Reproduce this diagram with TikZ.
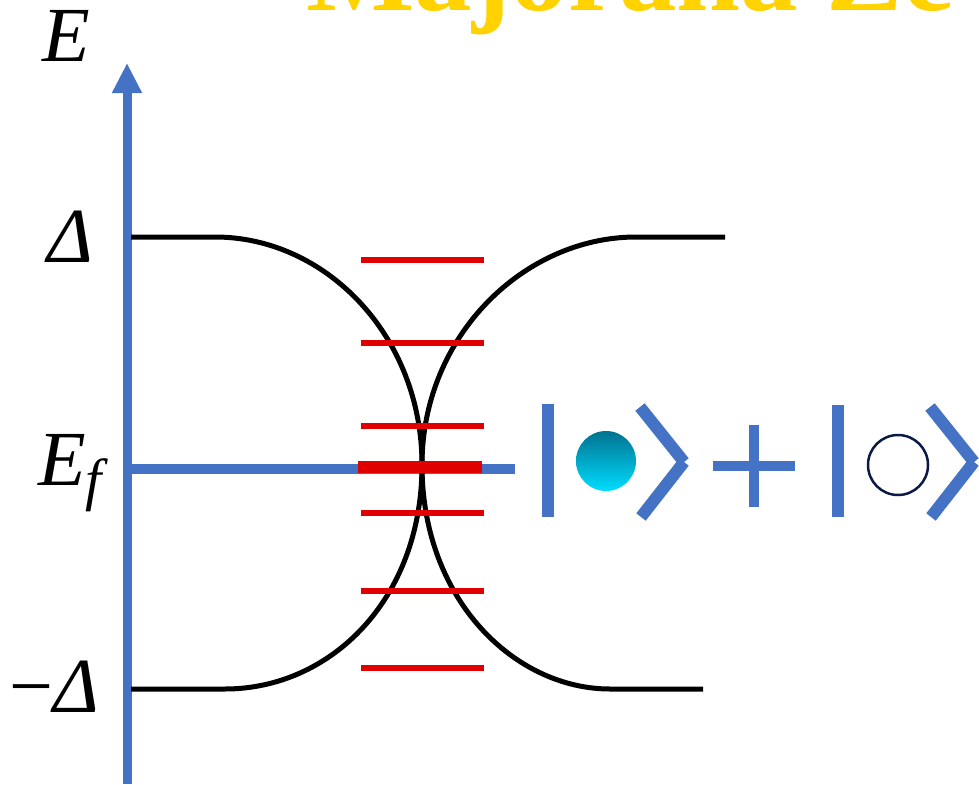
\documentclass[tikz,border=0pt]{standalone}
\usepackage{fontspec}
\setmainfont{Liberation Serif}
\usetikzlibrary{arrows.meta}
\definecolor{axisblue}{HTML}{4472C4}
\definecolor{levelred}{HTML}{E00000}
\definecolor{titlegold}{HTML}{FFD200}
\definecolor{navy}{HTML}{0B1A45}
\definecolor{tealtop}{HTML}{00728F}
\definecolor{cyanbot}{HTML}{00DDFF}
\tikzset{
  axisline/.style={axisblue, line width=9pt},
  bandline/.style={black, line width=5pt},
  levelline/.style={levelred, line width=6pt},
  ketstroke/.style={axisblue, line width=12pt},
  biglabel/.style={inner sep=0pt, anchor=base, font=\fontsize{78}{78}\selectfont\itshape},
}
\begin{document}
\begin{tikzpicture}[x=1pt,y=-1pt]
\useasboundingbox (0,0) rectangle (979,784);
\clip (0,0) rectangle (979,784);
% title (cut off)
\node[inner sep=0pt, anchor=base west, text=titlegold, font=\fontsize{115}{115}\selectfont\bfseries] (title) at (306,11) {Majorana Ze};
% axis
\coordinate (axbot) at (127,784);
\coordinate (axtop) at (127,63);
\draw[axisline, -{Triangle[width=28pt,length=30pt]}] (axbot) -- (axtop);
% labels
\node[biglabel] (lE) at (66,62) {E};
\node[biglabel] (lD) at (70,262) {Δ};
\node[biglabel] (lEf) at (70,485) {E\raisebox{-14pt}{\fontsize{58}{58}\selectfont f}};
\node[biglabel] (lmD) at (52,712) {−\kern-3ptΔ};
% Fermi level
\coordinate (ef0) at (127,469);
\coordinate (ef1) at (515,469);
\draw[axisblue, line width=10pt] (ef0) -- (ef1);
% band curves
\coordinate (a0) at (131,237);
\coordinate (a1) at (215,237);
\coordinate (c) at (422,465);
\coordinate (a2) at (610,689);
\coordinate (a3) at (703,689);
\coordinate (b0) at (131,689);
\coordinate (b1) at (225,689);
\coordinate (b2) at (636,237);
\coordinate (b3) at (725,237);
\draw[bandline] (a0) -- (a1) .. controls (325,237) and (422,335) .. (c)
   .. controls (422,600) and (515,689) .. (a2) -- (a3);
\draw[bandline] (b0) -- (b1) .. controls (330,689) and (422,600) .. (c)
   .. controls (422,335) and (525,237) .. (b2) -- (b3);
% levels
\foreach \yy/\nm in {260/r1,343/r2,426/r3,513/r4,591/r5,668/r6}{
  \coordinate (\nm l) at (361,\yy);
  \coordinate (\nm r) at (484,\yy);
  \draw[levelline] (\nm l) -- (\nm r);
}
\coordinate (zl) at (358,467);
\coordinate (zr) at (482,467);
\draw[levelred, line width=12pt] (zl) -- (zr);
% ket 1
\coordinate (k1a) at (548,404);
\coordinate (k1b) at (548,517);
\draw[ketstroke] (k1a) -- (k1b);
\shade[top color=tealtop, bottom color=cyanbot] (606,461) circle (30);
\node[circle, inner sep=0pt, minimum size=60pt] (full) at (606,461) {};
\coordinate (v1a) at (640,407);
\coordinate (v1t) at (684,462);
\coordinate (v1b) at (641,517);
\draw[ketstroke] (v1a) -- (v1t);
\draw[ketstroke] (v1t) -- (v1b);
% plus
\coordinate (p1) at (754,425);
\coordinate (p2) at (754,507);
\coordinate (p3) at (713,466);
\coordinate (p4) at (795,466);
\draw[axisblue, line width=10pt] (p1) -- (p2);
\draw[axisblue, line width=10pt] (p3) -- (p4);
% ket 2
\coordinate (k2a) at (838,405);
\coordinate (k2b) at (838,517);
\draw[ketstroke] (k2a) -- (k2b);
\node[circle, draw=navy, line width=2.5pt, inner sep=0pt, minimum size=60pt] (empty) at (898,465) {};
\coordinate (v2a) at (930,407);
\coordinate (v2t) at (974,462);
\coordinate (v2b) at (931,517);
\draw[ketstroke] (v2a) -- (v2t);
\draw[ketstroke] (v2t) -- (v2b);
\end{tikzpicture}
\end{document}
